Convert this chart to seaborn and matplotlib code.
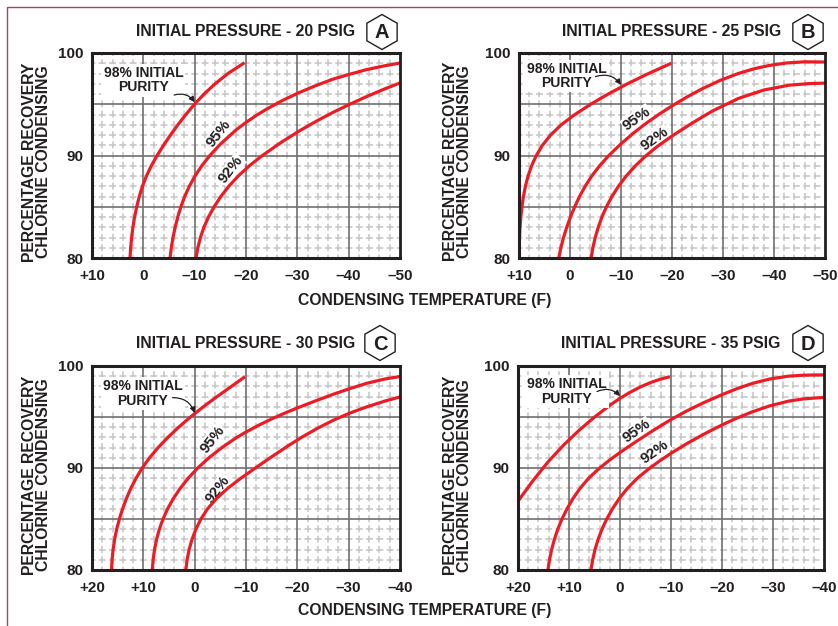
import numpy as np
import pandas as pd
import matplotlib
matplotlib.use("Agg")
import matplotlib.pyplot as plt
import seaborn as sns
from matplotlib.patches import RegularPolygon, Rectangle

# ---------------- data ----------------
PANEL_TITLES = ["INITIAL PRESSURE - 20 PSIG", "INITIAL PRESSURE - 25 PSIG",
                "INITIAL PRESSURE - 30 PSIG", "INITIAL PRESSURE - 35 PSIG"]
PANEL_LETTERS = ["A", "B", "C", "D"]
PURITIES = ["98%", "95%", "92%"]
X_TICKS_AB = [10, 0, -10, -20, -30, -40, -50]
X_TICKS_CD = [20, 10, 0, -10, -20, -30, -40]
Y_TICKS = [80, 90, 100]

A98_T = [2.6, 2.47, 2.28, 2.03, 1.70, 1.29, 0.79, 0.17, -0.61, -1.56, -2.69, -3.94,
         -5.29, -6.74, -8.29, -9.96, -11.84, -13.99, -16.49, -19.7]
A98_R = [80, 81, 82, 83, 84, 85, 86, 87, 88, 89, 90, 91, 92, 93, 94, 95, 96, 97, 98, 99.05]
A95_T = [-5.2, -5.45, -5.78, -6.2, -6.71, -7.32, -8.06, -8.96, -10.06, -11.39, -12.96,
         -15.0, -18.0, -20.0, -22.0, -24.0, -27.0, -30.0, -33.5, -37.0, -40.0, -43.5, -47.0, -50.0]
A95_R = [80, 81, 82, 83, 84, 85, 86, 87, 88, 89, 90,
         91.1, 92.47, 93.23, 93.91, 94.52, 95.34, 96.06, 96.8, 97.46, 97.9, 98.38, 98.75, 99.02]
A92_T = [-10.26, -10.62, -11.12, -11.80, -12.69, -13.79, -15.10, -16.65, -18.49, -20.67, -23.19,
         -27.0, -30.5, -34.0, -37.0, -40.0, -43.5, -47.0, -50.0]
A92_R = [80, 81, 82, 83, 84, 85, 86, 87, 88, 89, 90,
         91.33, 92.43, 93.43, 94.22, 94.95, 95.75, 96.49, 97.08]

B98_T = [10.0, 9.97, 9.9, 9.8, 9.64, 9.42, 9.13, 8.74, 8.22, 7.52, 6.61, 5.40, 3.80, 1.70,
         -0.96, -4.06, -7.51, -11.28, -15.41, -19.86]
B98_R = [80, 81, 82, 83, 84, 85, 86, 87, 88, 89, 90, 91, 92, 93, 94, 95, 96, 97, 98, 99]
B95_T = [2.2, 1.79, 1.27, 0.64, -0.09, -0.93, -1.87, -2.97, -4.27, -5.81, -7.62,
         -10.0, -12.5, -15.0, -17.5, -20.0, -23.0, -26.0, -29.5, -33.0, -36.0, -39.0, -42.5, -46.0, -50.0]
B95_R = [80, 81, 82, 83, 84, 85, 86, 87, 88, 89, 90,
         91.14, 92.21, 93.17, 94.04, 94.84, 95.73, 96.53, 97.34, 98.0, 98.45, 98.78, 99.03, 99.14, 99.12]
B92_T = [-4.14, -4.49, -4.95, -5.54, -6.26, -7.15, -8.22, -9.5, -11.03, -12.83, -14.95,
         -17.0, -20.0, -24.0, -28.0, -33.0, -38.0, -43.0, -47.0, -50.0]
B92_R = [80, 81, 82, 83, 84, 85, 86, 87, 88, 89, 90,
         90.84, 91.9, 93.18, 94.36, 95.56, 96.39, 96.86, 97.02, 97.06]

C98_T = [16.2, 16.09, 15.89, 15.6, 15.19, 14.67, 14.04, 13.3, 12.44, 11.42, 10.22, 8.8,
         7.12, 5.22, 3.12, 0.82, -1.68, -4.36, -7.16, -9.8]
C98_R = [80, 81, 82, 83, 84, 85, 86, 87, 88, 89, 90, 91, 92, 93, 94, 95, 96, 97, 98, 98.95]
C95_T = [8.26, 8.09, 7.82, 7.42, 6.88, 6.17, 5.27, 4.16, 2.83, 1.25, -0.6, -2.78, -5.3,
         -8.0, -10.0, -12.5, -15.0, -17.5, -20.0, -23.5, -27.0, -30.0, -33.5, -37.0, -40.0]
C95_R = [80, 81, 82, 83, 84, 85, 86, 87, 88, 89, 90, 91, 92,
         92.93, 93.53, 94.2, 94.81, 95.37, 95.89, 96.57, 97.23, 97.75, 98.3, 98.72, 98.97]
C92_T = [1.73, 1.47, 1.08, 0.52, -0.24, -1.21, -2.51, -4.24, -6.41, -9.01,
         -12.0, -15.0, -18.0, -21.0, -24.0, -27.0, -30.0, -33.5, -37.0, -40.0]
C92_R = [80, 81, 82, 83, 84, 85, 86, 87, 88, 89,
         90.06, 91.1, 92.11, 93.06, 93.91, 94.68, 95.34, 95.99, 96.55, 96.97]

D98_T = [20.0, 17.0, 14.0, 11.0, 8.0, 5.0, 2.0, 0.0, -2.0, -4.0, -6.0, -8.0, -9.8]
D98_R = [86.75, 88.8, 90.66, 92.28, 93.7, 94.99, 96.15, 96.83, 97.43, 97.95, 98.38, 98.72, 98.95]
D95_T = [14.13, 13.83, 13.41, 12.87, 12.2, 11.38, 10.39, 9.22, 7.84, 6.14, 3.99,
         2.0, 0.0, -3.0, -6.5, -10.0, -13.0, -16.3, -20.0, -23.0, -26.0, -29.4, -33.0, -36.0, -40.0]
D95_R = [80, 81, 82, 83, 84, 85, 86, 87, 88, 89, 90,
         90.79, 91.52, 92.54, 93.68, 94.75, 95.57, 96.38, 97.19, 97.79, 98.3, 98.73, 99.0, 99.1, 99.13]
D92_T = [5.7, 5.36, 4.9, 4.29, 3.53, 2.6, 1.48, 0.15, -1.44, -3.4, -5.85,
         -8.0, -10.0, -13.0, -16.3, -20.0, -23.0, -26.0, -29.4, -33.0, -36.0, -40.0]
D92_R = [80, 81, 82, 83, 84, 85, 86, 87, 88, 89, 90,
         90.77, 91.44, 92.36, 93.28, 94.22, 94.91, 95.52, 96.1, 96.55, 96.78, 96.92]

CURVES = [
    [(A98_T, A98_R), (A95_T, A95_R), (A92_T, A92_R)],
    [(B98_T, B98_R), (B95_T, B95_R), (B92_T, B92_R)],
    [(C98_T, C98_R), (C95_T, C95_R), (C92_T, C92_R)],
    [(D98_T, D98_R), (D95_T, D95_R), (D92_T, D92_R)],
]

# ---------------- styling / layout ----------------
sns.set_style("white")
plt.rcParams['font.family'] = ['Liberation Sans', 'DejaVu Sans']
plt.rcParams['font.weight'] = 'bold'
plt.rcParams['lines.scale_dashes'] = False

INK = '#231f20'
RED = '#ed1c24'
MAJOR = '#6f6f6f'
MINOR = '#c4c4c4'

W, H = 838, 626
fig = plt.figure(figsize=(W / 100, H / 100), dpi=100)

AXES_PX = [(92, 53, 400, 258), (519, 53, 825, 258),
           (92, 366, 400, 570), (518, 366, 824, 570)]

NOTE_POS = [(0.0, 97.35), (0.6, 97.75), (10.1, 97.3), (10.4, 97.5)]
ARROW = [((-6.0, 95.9), (-10.0, 95.2)), ((-5.0, 97.7), (-10.0, 96.9)),
         ((4.3, 96.9), (0.0, 95.4)), ((4.5, 97.5), (0.0, 97.05))]
P95 = [(-14.6, 92.1, 52), (-13.1, 93.6, 35), (-3.5, 92.8, 52), (-3.3, 93.6, 35)]
P92 = [(-17.1, 88.6, 52), (-16.7, 91.6, 35), (-4.5, 87.9, 52), (-6.9, 91.6, 35)]


def fmt(v):
    if v > 0:
        return "+%d" % v
    if v == 0:
        return "0"
    return "\u2013%d" % (-v)


DASH = (2.5, (5.0, 2.4))

for i in range(4):
    l, t, r, b = AXES_PX[i]
    ax = fig.add_axes([l / W, 1 - b / H, (r - l) / W, (b - t) / H])
    xticks = X_TICKS_AB if i < 2 else X_TICKS_CD
    xmax, xmin = xticks[0], xticks[-1]

    rows = []
    for (T, R), p in zip(CURVES[i], PURITIES):
        for tv, rv in zip(T, R):
            rows.append({"temp": tv, "recovery": rv, "purity": p})
    df = pd.DataFrame(rows)

    # grid
    for x in np.arange(xmin, xmax + 0.1, 2):
        if x % 10 == 0:
            continue
        ax.axvline(x, color=MINOR, lw=1.1, linestyle=DASH, zorder=0.5)
    for y in np.arange(80, 100.1, 1):
        if y % 5 == 0:
            continue
        ax.axhline(y, color=MINOR, lw=1.1, linestyle=DASH, zorder=0.5)
    for x in xticks[1:-1]:
        ax.axvline(x, color=MAJOR, lw=1.2, zorder=0.6)
    for y in [85, 90, 95]:
        ax.axhline(y, color=MAJOR, lw=1.2, zorder=0.6)

    sns.lineplot(data=df, x="temp", y="recovery", units="purity",
                 estimator=None, sort=False, color=RED, lw=2.3, ax=ax,
                 legend=False, zorder=2)
    for ln in ax.get_lines()[-3:]:
        ln.set_solid_joinstyle('round')
        ln.set_solid_capstyle('butt')

    ax.set_xlim(xmax, xmin)
    ax.set_ylim(80, 100)
    ax.set_xticks(xticks)
    ax.set_xticklabels([fmt(v) for v in xticks])
    ax.set_yticks(Y_TICKS)
    ax.set_yticklabels([str(v) for v in Y_TICKS])
    ax.set_xlabel("")
    ax.set_ylabel("")
    ax.tick_params(axis='both', direction='out', length=5, width=1.2,
                   color=INK, labelsize=11, labelcolor=INK)
    ax.tick_params(axis='x', pad=3)
    ax.tick_params(axis='y', pad=1)
    for lab in ax.get_xticklabels() + ax.get_yticklabels():
        lab.set_fontweight('bold')
    for s in ax.spines.values():
        s.set_visible(True)
        s.set_color(INK)
        s.set_linewidth(2.2)
        s.set_zorder(5)
    ax.spines['right'].set_linewidth(2.0)

    # notes
    nx, ny = NOTE_POS[i]
    ax.text(nx, ny, "98% INITIAL\nPURITY", ha='center', va='center',
            multialignment='center', fontsize=10, fontweight='bold',
            color=INK, linespacing=1.05, zorder=3,
            bbox=dict(boxstyle='square,pad=0.15', fc='white', ec='none'))
    (sx, sy), (ex, ey) = ARROW[i]
    ax.annotate("", xy=(ex, ey), xytext=(sx, sy), zorder=4,
                arrowprops=dict(arrowstyle='-|>', connectionstyle='arc3,rad=-0.35',
                                color=INK, lw=0.9, mutation_scale=8,
                                shrinkA=0, shrinkB=0))
    for (px, py, rot), lab in zip([P95[i], P92[i]], ["95%", "92%"]):
        ax.text(px, py, lab, ha='center', va='center', rotation=rot,
                rotation_mode='anchor', fontsize=11, fontweight='bold',
                color=INK, zorder=1.5,
                bbox=dict(boxstyle='square,pad=0.05', fc='white', ec='none'))

# ---------------- overlay for free text, hexagons, border ----------------
ov = fig.add_axes([0, 0, 1, 1], zorder=10)
ov.set_xlim(0, W)
ov.set_ylim(H, 0)
ov.axis('off')
ov.patch.set_visible(False)

ov.add_patch(Rectangle((7, 7), 1000, 1000, fill=False, ec='#a3455b', lw=1.0))

TITLE_Y = [32, 32, 343, 343]
HEX_X = [382, 808, 380, 808]
YLAB_X = [36.5, 457.5, 36.5, 457.5]
YLAB_Y = [162, 161.5, 475, 475.5]
for i in range(4):
    l, t, r, b = AXES_PX[i]
    ov.text((l + r) / 2, TITLE_Y[i], PANEL_TITLES[i], ha='center', va='center',
            fontsize=11.3, fontweight='bold', color=INK)
    ov.add_patch(RegularPolygon((HEX_X[i], TITLE_Y[i]), numVertices=6, radius=17.5,
                                orientation=0, fill=True, fc='white', ec=INK, lw=1.0))
    ov.text(HEX_X[i], TITLE_Y[i] + 1, PANEL_LETTERS[i], ha='center', va='center',
            fontsize=14.5, fontweight='bold', color=INK)
    ov.text(YLAB_X[i], YLAB_Y[i], "PERCENTAGE RECOVERY\nCHLORINE CONDENSING",
            rotation=90, ha='center', va='center', multialignment='center',
            fontsize=11.3, fontweight='bold', color=INK, linespacing=0.9)

for y in [300, 611]:
    ov.text(425, y, "CONDENSING TEMPERATURE (F)", ha='center', va='center',
            fontsize=11.3, fontweight='bold', color=INK)

fig.savefig("out.png", dpi=100)
